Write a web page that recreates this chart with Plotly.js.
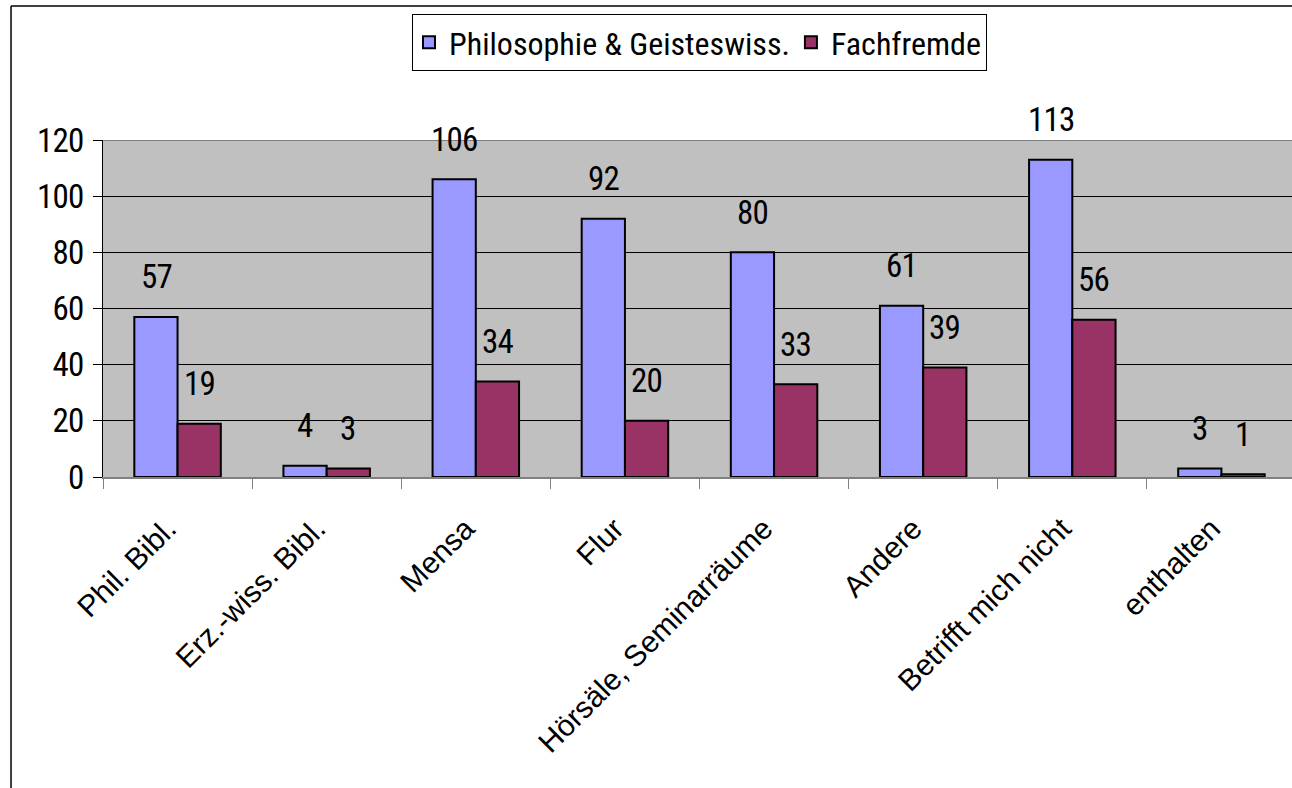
<!DOCTYPE html>
<html>
<head>
<meta charset="utf-8">
<script src="https://cdn.plot.ly/plotly-3.0.1.min.js"></script>
<style>
html,body{margin:0;padding:0;overflow:hidden;background:#fff;}
#chart{width:1300px;height:788px;}
.annotation-text, .ytick text { letter-spacing: -0.8px; }
</style>
</head>
<body>
<div id="chart"></div>
<script>
const categories = ["Phil. Bibl.", "Erz.-wiss. Bibl.", "Mensa", "Flur", "Hörsäle, Seminarräume", "Andere", "Betrifft mich nicht", "enthalten"];
const seriesNames = ["Philosophie & Geisteswiss.", "Fachfremde"];
const philosophie = [57, 4, 106, 92, 80, 61, 113, 3];
const fachfremde = [19, 3, 34, 20, 33, 39, 56, 1];
const yTicks = [0, 20, 40, 60, 80, 100, 120];

const NARROW = "'Roboto Condensed', 'Liberation Sans', Arial, sans-serif";
const WIDE = "'Liberation Sans', Arial, sans-serif";
const colors = ["#9999FF", "#993366"];

const traces = [philosophie, fachfremde].map((vals, i) => ({
  type: "bar",
  name: seriesNames[i],
  x: categories,
  y: vals,
  marker: {color: colors[i], line: {color: "#000000", width: 2}},
  hoverinfo: "none"
}));

const annotations = [];
[philosophie, fachfremde].forEach((vals, i) => {
  vals.forEach((v, j) => {
    annotations.push({
      x: categories[j], y: v, xref: "x", yref: "y",
      text: String(v), showarrow: false,
      xshift: i === 0 ? -21.5 : 21.5, yshift: 40,
      yanchor: "middle", xanchor: "center",
      font: {family: NARROW, size: 33, color: "#000"}
    });
  });
});

const layout = {
  width: 1300, height: 788,
  margin: {l: 103, r: 4, t: 140, b: 311},
  paper_bgcolor: "#ffffff",
  plot_bgcolor: "#C0C0C0",
  barmode: "group",
  bargap: 0.42,
  bargroupgap: 0,
  showlegend: true,
  legend: {
    orientation: "h", x: 0.259, y: 1.374, xanchor: "left", yanchor: "top",
    bgcolor: "#ffffff", bordercolor: "#000000", borderwidth: 1,
    font: {family: NARROW, size: 32, color: "#000"},
    indentation: -4,
    itemwidth: 30, tracegroupgap: 0
  },
  xaxis: {
    type: "category", range: [-0.5, 7.5],
    tickangle: -45,
    tickfont: {family: WIDE, size: 30, color: "#000"},
    ticklabelstandoff: 20,
    ticklabelshift: -10,
    showgrid: false,
    showline: true, linecolor: "#808080", linewidth: 2,
    ticks: "outside", ticklen: 10, tickcolor: "#808080", tickwidth: 1,
    tickson: "boundaries",
    fixedrange: true
  },
  yaxis: {
    range: [0, 120],
    tickvals: yTicks,
    ticktext: yTicks.map(String),
    tickfont: {family: NARROW, size: 33, color: "#000"},
    ticklabelstandoff: 3,
    showgrid: true, gridcolor: "#000000", gridwidth: 1,
    showline: true, linecolor: "#000000", linewidth: 1,
    ticks: "outside", ticklen: 9, tickcolor: "#000000",
    zeroline: false,
    fixedrange: true
  },
  annotations: annotations,
  shapes: [
    {type: "line", xref: "paper", yref: "paper", x0: -0.0771, x1: -0.0771, y0: 1.3976, y1: -1.2, line: {color: "#000", width: 1.5}},
    {type: "line", xref: "paper", yref: "paper", x0: -0.0771, x1: 1.2, y0: 1.3976, y1: 1.3976, line: {color: "#000", width: 1.5}},
    {type: "line", xref: "paper", yref: "y", x0: 0, x1: 1, y0: 120, y1: 120, line: {color: "#808080", width: 2}}
  ]
};

Plotly.newPlot("chart", traces, layout, {displayModeBar: false, staticPlot: true});
</script>
</body>
</html>
